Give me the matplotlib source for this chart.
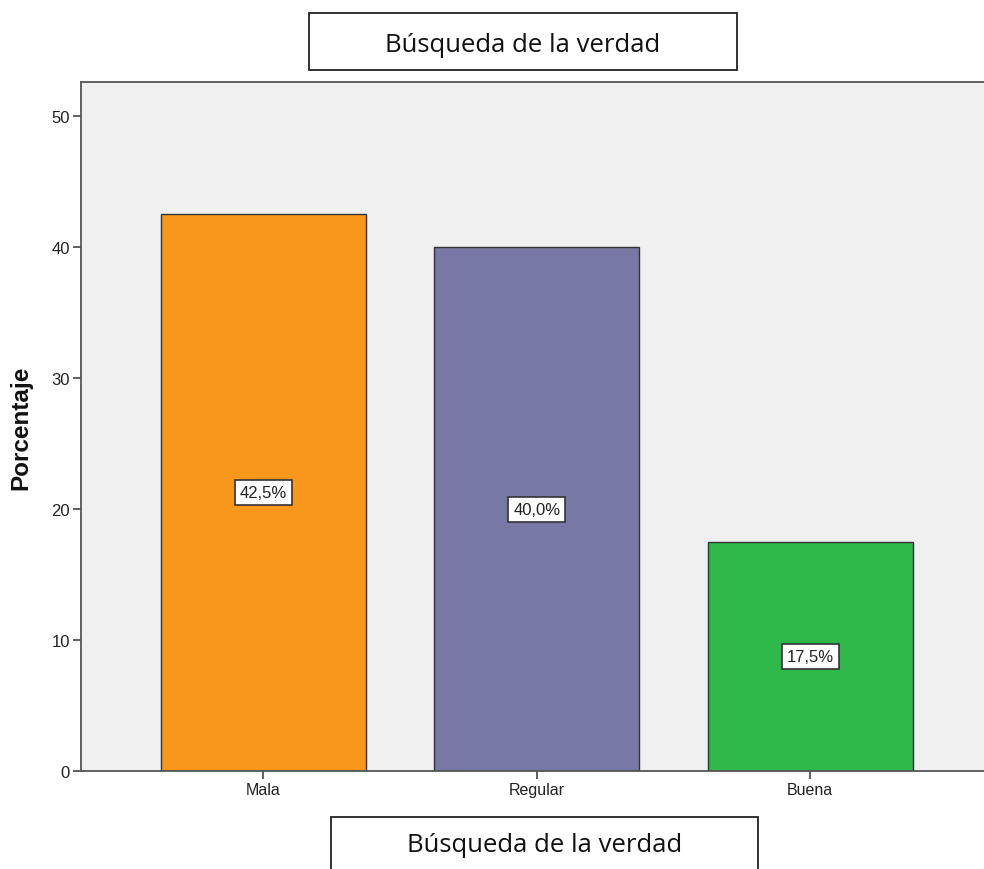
import matplotlib
matplotlib.use('Agg')
import matplotlib.pyplot as plt
from matplotlib.patches import Rectangle

# Data
categories = ['Mala', 'Regular', 'Buena']
percentages = [42.5, 40.0, 17.5]
colors = ['#F7981D', '#7878A6', '#2EB84A']
yticks = [0, 10, 20, 30, 40, 50]
title = 'Búsqueda de la verdad'

fig = plt.figure(figsize=(9.84, 8.7), dpi=100)
ax = fig.add_axes([81/984, 98/870, 911.5/984, 689/870])
ax.set_facecolor('#F0F0F0')

x = range(len(categories))
ax.bar(x, percentages, width=0.75, color=colors, edgecolor='#333333', linewidth=1.0, zorder=2)

# value labels in boxes at mid-height
for xi, v in zip(x, percentages):
    ax.text(xi, v/2, f'{v:.1f}%'.replace('.', ','), ha='center', va='center',
            family='Liberation Sans', fontsize=12, color='#222222', zorder=3,
            bbox=dict(boxstyle='square,pad=0.3', facecolor='white', edgecolor='#333333', linewidth=1.2))

ax.set_xlim(-0.667, 2.667)
ax.set_ylim(0, 52.6)
ax.set_xticks(list(x))
ax.set_xticklabels(categories, family='Liberation Sans', fontsize=11.5, color='#222222')
ax.set_yticks(yticks)
ax.set_yticklabels([str(t) for t in yticks], family='Liberation Sans', fontsize=12, color='#222222')
ax.tick_params(axis='both', direction='out', length=6, width=1.2, color='#444444', pad=2)
for s in ax.spines.values():
    s.set_color('#555555')
    s.set_linewidth(1.3)

fig.text(21/984, 1 - 428/870, 'Porcentaje', rotation=90, ha='center', va='center',
         family='Liberation Sans', fontweight='bold', fontsize=17.5, color='#111111')

# Title boxes
fig.patches.append(Rectangle((309/984, 1 - 71/870), 428/984, 57/870, transform=fig.transFigure,
                             facecolor='white', edgecolor='#222222', linewidth=1.3))
fig.text(523/984, 1 - 45/870, title, ha='center', va='center', family='Open Sans',
         fontsize=18.5, color='#111111')
fig.patches.append(Rectangle((331/984, 1 - 880/870), 427/984, 62/870, transform=fig.transFigure,
                             facecolor='white', edgecolor='#222222', linewidth=1.3))
fig.text(544.5/984, 1 - 846/870, title, ha='center', va='center', family='Open Sans',
         fontsize=18.5, color='#111111')

plt.savefig('out.png', dpi=100)
